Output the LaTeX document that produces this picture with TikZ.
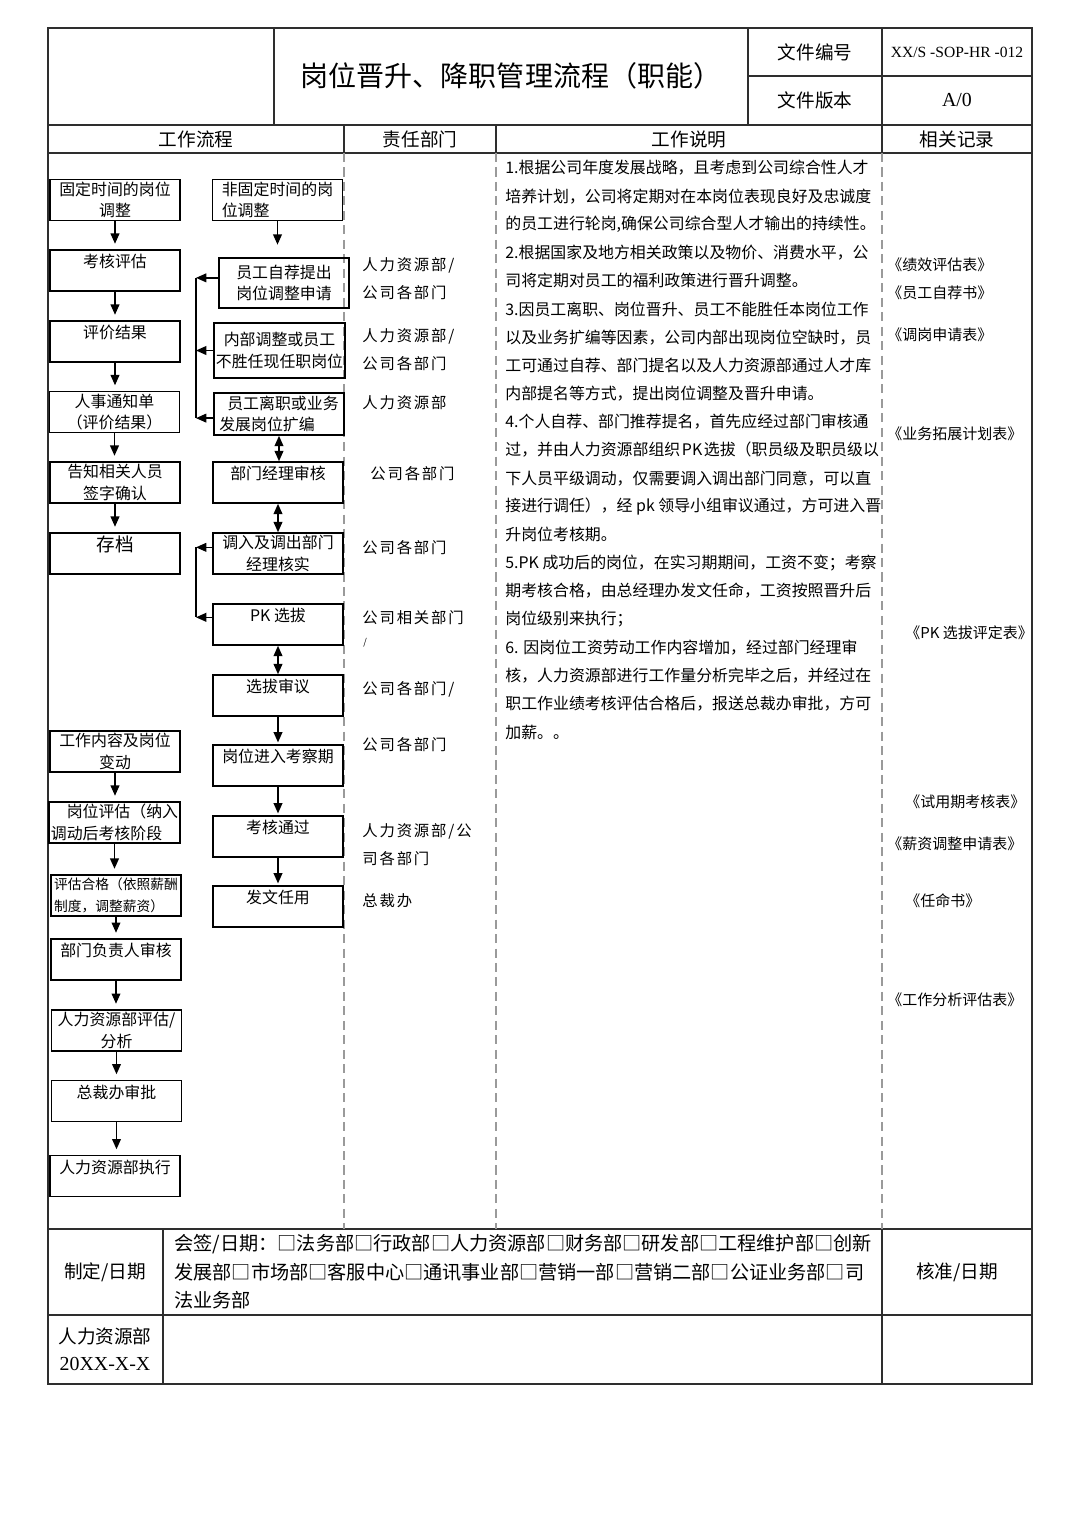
\documentclass[tikz,border=0pt]{standalone}
\usepackage{fontspec}
\setmainfont{Noto Sans CJK SC}
\newfontfamily\latfont{Liberation Serif}
\newfontfamily\sperrfont[LetterSpace=12]{Noto Sans CJK SC}
\usetikzlibrary{arrows.meta}
\definecolor{rahmen}{HTML}{2E2E2E}
\definecolor{strich}{HTML}{9A9A9A}
\tikzset{
  kasten/.style={draw=black,line width=0.8pt,minimum width=2.53cm,minimum height=0.8cm,
    inner sep=1pt,align=center,font=\fontsize{8.8}{12}\selectfont},
  oben/.style={text height=6pt,text depth=9pt},
  pfeil/.style={-{Triangle[length=2mm,width=1.7mm]},line width=0.8pt},
  dpfeil/.style={{Triangle[length=2mm,width=1.7mm]}-{Triangle[length=2mm,width=1.7mm]},line width=0.8pt},
  linie/.style={rahmen,line width=0.6pt},
  trenn/.style={strich,dash pattern=on 5pt off 3pt,line width=0.6pt},
  zelle/.style={font=\fontsize{10.3}{13}\selectfont,inner sep=0pt},
  erkl/.style={font=\fontsize{8.8}{12}\selectfont,anchor=west,inner sep=0pt},
  abt/.style={font=\sperrfont\fontsize{8.5}{12}\selectfont,anchor=west,inner sep=0pt},
  akte/.style={font=\fontsize{8.3}{12}\selectfont,anchor=west,inner sep=0pt},
}
\begin{document}
\begin{tikzpicture}[x=0.01944cm,y=-0.01944cm]
  \useasboundingbox (0,0) rectangle (1080,1527);
  % Tabelle
  \draw[linie] (48,28) rectangle (1032,1384);
  \foreach \y in {125,153,1229,1315} \draw[linie] (48,\y) -- (1032,\y);
  \foreach \x in {274,748,882} \draw[linie] (\x,28) -- (\x,125);
  \draw[linie] (748,76) -- (1032,76);
  \foreach \x in {344,496,882} \draw[linie] (\x,125) -- (\x,153);
  \foreach \x in {344,496,882} \draw[trenn] (\x,153) -- (\x,1229);
  \foreach \x in {163,882} \draw[linie] (\x,1229) -- (\x,1384);
  % Kopf
  \node[zelle,font=\fontsize{15.5}{18}\selectfont] (titel) at (511,76) {岗位晋升、降职管理流程（职能）};
  \node[zelle] (nr) at (815,52) {文件编号};
  \node[zelle,font=\latfont\fontsize{8.6}{11}\selectfont] (nrw) at (957,52) {XX/S -SOP-HR -012};
  \node[zelle] (ver) at (815,100) {文件版本};
  \node[zelle,font=\latfont\fontsize{11}{13}\selectfont] (verw) at (957,100) {A/0};
  \node[zelle] (h1) at (196,139) {工作流程};
  \node[zelle] (h2) at (420,139) {责任部门};
  \node[zelle] (h3) at (689,139) {工作说明};
  \node[zelle] (h4) at (957,139) {相关记录};
  % linke Kette
  \node[kasten] (l1) at (115,200) {固定时间的岗位\\调整};
  \node[kasten,oben] (l2) at (115,270.5) {考核评估};
  \node[kasten,oben] (l3) at (115,341.5) {评价结果};
  \node[kasten] (l4) at (114.5,412) {人事通知单\\（评价结果）};
  \node[kasten] (l5) at (115,482.5) {告知相关人员\\签字确认};
  \node[kasten,oben,font=\fontsize{10.3}{12}\selectfont,text depth=8pt] (l6) at (115,553.5) {存档};
  \node[kasten] (l7) at (115,751.5) {工作内容及岗位\\变动};
  \node[kasten,align=left] (l8) at (114.5,822.5) {\hspace{1em}岗位评估（纳入\\调动后考核阶段};
  \node[kasten,align=left,font=\fontsize{7.6}{12}\selectfont] (l9) at (116,895.5) {评估合格（依照薪酬\\制度，调整薪资）};
  \node[kasten,oben] (l10) at (116,959.5) {部门负责人审核};
  \node[kasten] (l11) at (116.5,1030.5) {人力资源部评估/\\分析};
  \node[kasten,oben] (l12) at (116.5,1101) {总裁办审批};
  \node[kasten,oben] (l13) at (115,1176) {人力资源部执行};
  \foreach \a/\b in {l1/l2,l2/l3,l3/l4,l4/l5,l5/l6,l7/l8,l8/l9,l9/l10,l10/l11,l11/l12,l12/l13}
    \draw[pfeil,shorten >=3pt] (\a.south) -- (\a.south |- \b.north);
  % rechte Kette
  \node[kasten,align=left] (r1) at (277.5,200) {非固定时间的岗\\位调整};
  \node[kasten,minimum height=0.97cm] (r2) at (284,283) {员工自荐提出\\岗位调整申请};
  \node[kasten,minimum width=2.51cm,minimum height=1.07cm] (r3) at (279.5,350.5) {内部调整或员工\\不胜任现任职岗位};
  \node[kasten,align=left,minimum height=0.82cm] (r4) at (279,414) {\hspace{0.5em}员工离职或业务\\发展岗位扩编};
  \node[kasten,oben] (r5) at (278,482.5) {部门经理审核};
  \node[kasten] (r6) at (278,553.5) {调入及调出部门\\经理核实};
  \node[kasten,oben] (r7) at (278,624.5) {PK 选拔};
  \node[kasten,oben] (r8) at (278,695.5) {选拔审议};
  \node[kasten,oben] (r9) at (278,765.5) {岗位进入考察期};
  \node[kasten,oben] (r10) at (278,836.5) {考核通过};
  \node[kasten,oben] (r11) at (278,906.5) {发文任用};
  \draw[pfeil,shorten >=7pt] (r1.south) -- (r1.south |- r2.north);
  \foreach \a/\b in {r4/r5,r5/r6,r7/r8} \draw[dpfeil] (\a.south) -- (\a.south |- \b.north);
  \foreach \a/\b in {r8/r9,r9/r10,r10/r11} \draw[pfeil,shorten >=1pt] (\a.south) -- (\a.south |- \b.north);
  % Klammern links
  \coordinate (k) at (196,0);
  \coordinate (r2a) at ([yshift=0.1cm]r2.west);
  \coordinate (r4a) at ([yshift=-0.08cm]r4.west);
  \coordinate (r6a) at ([yshift=0.12cm]r6.west);
  \coordinate (r7a) at ([yshift=0.14cm]r7.west);
  \draw[line width=0.8pt] (r2a -| k) -- (r4a -| k);
  \draw[line width=0.8pt] (r6a -| k) -- (r7a -| k);
  \draw[pfeil] (r2a) -- (r2a -| k);
  \draw[pfeil] (r3.west) -- (r3.west -| k);
  \draw[pfeil] (r4a) -- (r4a -| k);
  \draw[pfeil] (r6a) -- (r6a -| k);
  \draw[pfeil] (r7a) -- (r7a -| k);
  % Abteilungen
  \node[abt] (a1) at (362,265) {人力资源部/};
  \node[abt] (a2) at (362,293) {公司各部门};
  \node[abt] (a3) at (362,336) {人力资源部/};
  \node[abt] (a4) at (362,364) {公司各部门};
  \node[abt] (a5) at (362,403) {人力资源部};
  \node[abt] (a6) at (370,474) {公司各部门};
  \node[abt] (a7) at (362,548) {公司各部门};
  \node[abt] (a8) at (362,618) {公司相关部门};
  \node[abt,font=\fontsize{5}{6}\selectfont] (a9) at (363,643) {/};
  \node[abt] (a10) at (362,689) {公司各部门/};
  \node[abt] (a11) at (362,745) {公司各部门};
  \node[abt] (a12) at (362,831) {人力资源部/公};
  \node[abt] (a13) at (362,859) {司各部门};
  \node[abt] (a14) at (362,901) {总裁办};
  % Erklaerung
  \foreach \t [count=\i] in {
    1.根据公司年度发展战略，且考虑到公司综合性人才,
    培养计划，公司将定期对在本岗位表现良好及忠诚度,
    {的员工进行轮岗,确保公司综合型人才输出的持续性。},
    2.根据国家及地方相关政策以及物价、消费水平，公,
    司将定期对员工的福利政策进行晋升调整。,
    3.因员工离职、岗位晋升、员工不能胜任本岗位工作,
    以及业务扩编等因素，公司内部出现岗位空缺时，员,
    工可通过自荐、部门提名以及人力资源部通过人才库,
    内部提名等方式，提出岗位调整及晋升申请。,
    4.个人自荐、部门推荐提名，首先应经过部门审核通,
    过，并由人力资源部组织\hspace{0.1em}PK\hspace{0.1em}选拔（职员级及职员级以,
    下人员平级调动，仅需要调入调出部门同意，可以直,
    接进行调任），经 pk 领导小组审议通过，方可进入晋,
    升岗位考核期。,
    5.PK 成功后的岗位，在实习期期间，工资不变；考察,
    期考核合格，由总经理办发文任命，工资按照晋升后,
    岗位级别来执行；,
    6. 因岗位工资劳动工作内容增加，经过部门经理审,
    核，人力资源部进行工作量分析完毕之后，并经过在,
    职工作业绩考核评估合格后，报送总裁办审批，方可,
    加薪。。}
    \node[erkl] (e\i) at (505,{168+28.2*(\i-1)}) {\t};
  % Aufzeichnungen
  \node[akte] (z1) at (887,265) {《绩效评估表》};
  \node[akte] (z2) at (887,293) {《员工自荐书》};
  \node[akte] (z3) at (887,335) {《调岗申请表》};
  \node[akte] (z4) at (887,434) {《业务拓展计划表》};
  \node[akte] (z5) at (905,633) {《PK 选拔评定表》};
  \node[akte] (z6) at (905,802) {《试用期考核表》};
  \node[akte] (z7) at (887,844) {《薪资调整申请表》};
  \node[akte] (z8) at (905,901) {《任命书》};
  \node[akte] (z9) at (887,1000) {《工作分析评估表》};
  % Fuss
  \node[zelle] (f1) at (105,1272) {制定/日期};
  \node[zelle] (f2) at (957,1272) {核准/日期};
  \node[zelle] (f3) at (105,1336) {人力资源部};
  \node[zelle,font=\latfont\fontsize{11}{13}\selectfont] (f4) at (105,1364) {20XX-X-X};
  \node[zelle,anchor=west,font=\fontsize{10.6}{13}\selectfont] (g1) at (174,1244) {会签/日期：□法务部□行政部□人力资源部□财务部□研发部□工程维护部□创新};
  \node[zelle,anchor=west,font=\fontsize{10.6}{13}\selectfont] (g2) at (174,1272) {发展部□市场部□客服中心□通讯事业部□营销一部□营销二部□公证业务部□司};
  \node[zelle,anchor=west,font=\fontsize{10.6}{13}\selectfont] (g3) at (174,1300) {法业务部};
\end{tikzpicture}
\end{document}
